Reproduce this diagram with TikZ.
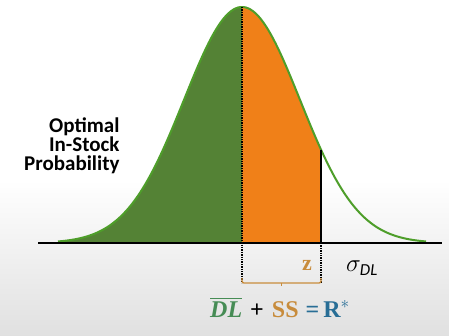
\documentclass[tikz,border=0pt]{standalone}
\usepackage{amsmath}
\usepackage{fontspec}
\setmainfont{Liberation Serif}
\newfontfamily\calfont{Carlito}
\usepackage{xcolor}
\usetikzlibrary{positioning, calc}

\definecolor{curvegreen}{RGB}{78,158,42}
\definecolor{fillgreen}{RGB}{84,130,53}
\definecolor{fillorange}{RGB}{240,128,24}
\definecolor{bracetan}{RGB}{200,140,60}
\definecolor{eqgreen}{RGB}{70,140,85}
\definecolor{eqblue}{RGB}{40,110,150}

\begin{document}
\begin{tikzpicture}[x=1pt, y=-1pt,
  declare function={bell(\x)=243-236*exp(-((\x-242)/58)^2/2);},
  guide/.style={densely dotted, line width=1.4pt},
  bigtext/.style={font=\bfseries\fontsize{22}{22}\selectfont}]
% background
\fill[white] (0,0) rectangle (449,335);
\shade[top color=white, bottom color=gray!24] (0,180) rectangle (449,335);
\useasboundingbox (0,0) rectangle (449,335);

% areas under the curve
\fill[fillgreen] (58,243) -- plot[domain=58:242, samples=80] (\x,{bell(\x)}) -- (242,243) -- cycle;
\fill[fillorange] (242,243) -- plot[domain=242:321, samples=40] (\x,{bell(\x)}) -- (321,243) -- cycle;
\draw[curvegreen, line width=2pt] plot[domain=58:426, samples=150] (\x,{bell(\x)});

% axis and cut
\coordinate (axisL) at (38,243);
\coordinate (axisR) at (442,243);
\coordinate (meanTop) at (242,{bell(242)});
\coordinate (meanBot) at (242,283);
\coordinate (cutTop) at (321,{bell(321)});
\coordinate (cutBase) at (321,243);
\coordinate (cutBot) at (321,283);
\draw[line width=1.5pt] (axisL) -- (axisR);
\draw[line width=1.5pt] (cutTop) -- (cutBase);
\draw[guide] (meanTop) -- (meanBot);
\draw[guide] (cutBase) -- (cutBot);

% bracket under z
\draw[bracetan, line width=1.3pt, rounded corners=2pt] ($(meanBot)+(0,-5)$) -- (meanBot) -- (cutBot) -- ($(cutBot)+(0,-5)$);
\draw[bracetan, line width=1.3pt] ($(meanBot)!0.5!(cutBot)$) -- ++(0,3);

% labels
\node[font=\calfont\bfseries\fontsize{21}{19}\selectfont, align=right, anchor=east] (prob) at (123,146) {Optimal\\In-Stock\\Probability};
\node[bigtext, text=bracetan] (zlab) at (307,265) {z};
\node[font=\fontsize{24}{24}\selectfont] (sigma) at (362,268) {$\sigma_{\text{\calfont\itshape DL}}$};
\node[bigtext, font=\bfseries\fontsize{24}{24}\selectfont] (eqn) at (280,307) {{\color{eqgreen}$\overline{\text{\bfseries\itshape DL}}$}\hspace{8pt}+\hspace{8pt}{\color{bracetan}SS}\hspace{7pt}{\color{eqblue}=\hspace{4pt}R$^{*}$}};
\end{tikzpicture}
\end{document}
